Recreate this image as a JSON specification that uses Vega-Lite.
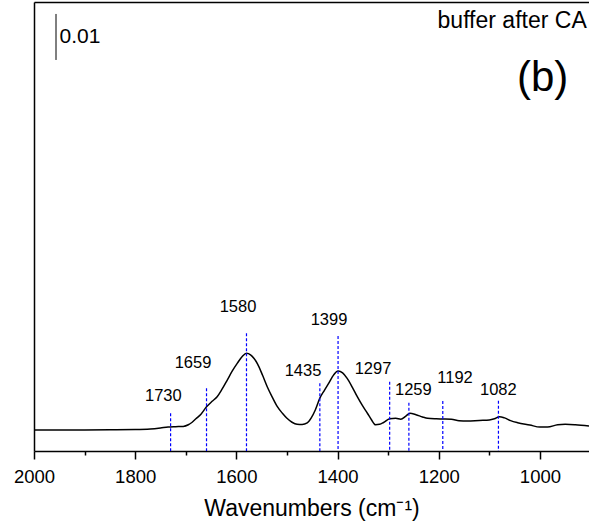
{
  "$schema": "https://vega.github.io/schema/vega-lite/v6.json",
  "width": 555,
  "height": 449,
  "autosize": {"type": "none"},
  "padding": {"left": 34, "top": 2, "right": 0, "bottom": 77},
  "config": {
    "view": {"stroke": null},
    "font": "Liberation Sans",
    "text": {"font": "Liberation Sans", "color": "black"}
  },
  "datasets": {
    "spectrum": [
      {"wn": 2000, "abs": 0.00455}, {"wn": 1950, "abs": 0.00455}, {"wn": 1900, "abs": 0.00457},
      {"wn": 1850, "abs": 0.0046}, {"wn": 1800, "abs": 0.00465}, {"wn": 1770, "abs": 0.00478},
      {"wn": 1750, "abs": 0.005}, {"wn": 1735, "abs": 0.0052}, {"wn": 1720, "abs": 0.00528},
      {"wn": 1705, "abs": 0.00535}, {"wn": 1695, "abs": 0.0057}, {"wn": 1688, "abs": 0.0062},
      {"wn": 1680, "abs": 0.007}, {"wn": 1670, "abs": 0.008}, {"wn": 1659, "abs": 0.0096},
      {"wn": 1648, "abs": 0.0108}, {"wn": 1638, "abs": 0.0118}, {"wn": 1628, "abs": 0.0135},
      {"wn": 1618, "abs": 0.01543}, {"wn": 1608, "abs": 0.0174}, {"wn": 1598, "abs": 0.0191},
      {"wn": 1588, "abs": 0.0206}, {"wn": 1580, "abs": 0.02124}, {"wn": 1572, "abs": 0.0209},
      {"wn": 1565, "abs": 0.0201}, {"wn": 1558, "abs": 0.0189}, {"wn": 1548, "abs": 0.0164},
      {"wn": 1539, "abs": 0.01398}, {"wn": 1529, "abs": 0.0117}, {"wn": 1519, "abs": 0.00963},
      {"wn": 1509, "abs": 0.0082}, {"wn": 1500, "abs": 0.00711}, {"wn": 1490, "abs": 0.00625},
      {"wn": 1480, "abs": 0.0058}, {"wn": 1470, "abs": 0.00575}, {"wn": 1460, "abs": 0.0061},
      {"wn": 1452, "abs": 0.0072}, {"wn": 1444, "abs": 0.00891}, {"wn": 1435, "abs": 0.0115},
      {"wn": 1426, "abs": 0.0132}, {"wn": 1417, "abs": 0.0148}, {"wn": 1408, "abs": 0.0165},
      {"wn": 1399, "abs": 0.01739}, {"wn": 1390, "abs": 0.017}, {"wn": 1381, "abs": 0.0158},
      {"wn": 1371, "abs": 0.0139}, {"wn": 1361, "abs": 0.0118}, {"wn": 1351, "abs": 0.0099},
      {"wn": 1341, "abs": 0.0082}, {"wn": 1333, "abs": 0.0068}, {"wn": 1325, "abs": 0.0057},
      {"wn": 1317, "abs": 0.0058}, {"wn": 1309, "abs": 0.0062}, {"wn": 1297, "abs": 0.007},
      {"wn": 1285, "abs": 0.0071}, {"wn": 1275, "abs": 0.0069}, {"wn": 1265, "abs": 0.0076},
      {"wn": 1257, "abs": 0.0082}, {"wn": 1245, "abs": 0.0079}, {"wn": 1232, "abs": 0.0074},
      {"wn": 1222, "abs": 0.00711}, {"wn": 1205, "abs": 0.007}, {"wn": 1192, "abs": 0.00696},
      {"wn": 1175, "abs": 0.0069}, {"wn": 1160, "abs": 0.0066}, {"wn": 1143, "abs": 0.00652},
      {"wn": 1120, "abs": 0.00665}, {"wn": 1100, "abs": 0.00674}, {"wn": 1090, "abs": 0.007},
      {"wn": 1080, "abs": 0.00746}, {"wn": 1070, "abs": 0.0072}, {"wn": 1058, "abs": 0.0066},
      {"wn": 1044, "abs": 0.00615}, {"wn": 1020, "abs": 0.00565}, {"wn": 1000, "abs": 0.0052},
      {"wn": 985, "abs": 0.0052}, {"wn": 965, "abs": 0.0057}, {"wn": 950, "abs": 0.0058},
      {"wn": 930, "abs": 0.0057}, {"wn": 903, "abs": 0.00543}
    ],
    "peaks": [
      {"wn": 1730, "top": 0.0082, "label": "1730", "label_wn": 1744.4, "label_abs": 0.01196},
      {"wn": 1659, "top": 0.01363, "label": "1659", "label_wn": 1685.7, "label_abs": 0.01913},
      {"wn": 1580, "top": 0.02559, "label": "1580", "label_wn": 1596.8, "label_abs": 0.03137},
      {"wn": 1435, "top": 0.01472, "label": "1435", "label_wn": 1468.3, "label_abs": 0.01746},
      {"wn": 1399, "top": 0.025, "label": "1399", "label_wn": 1416.9, "label_abs": 0.02848},
      {"wn": 1297, "top": 0.01507, "label": "1297", "label_wn": 1329.9, "label_abs": 0.01772},
      {"wn": 1259, "top": 0.0105, "label": "1259", "label_wn": 1250.2, "label_abs": 0.01326},
      {"wn": 1192, "top": 0.01087, "label": "1192", "label_wn": 1167.8, "label_abs": 0.0158},
      {"wn": 1082, "top": 0.01093, "label": "1082", "label_wn": 1082.2, "label_abs": 0.01326}
    ],
    "scalebar": [
      {"wn": 1956.5, "lo": 0.085, "hi": 0.095, "mid": 0.0901, "label": "0.01"}
    ],
    "notes": [
      {"wn": 907.5, "abs": 0.0935, "text": "buffer after CA", "size": "small"},
      {"wn": 943.8, "abs": 0.0811, "text": "(b)", "size": "big"}
    ]
  },
  "layer": [
    {
      "data": {"name": "spectrum"},
      "mark": {"type": "line", "color": "black", "strokeWidth": 1.5, "interpolate": "monotone", "clip": true},
      "encoding": {
        "x": {
          "field": "wn", "type": "quantitative",
          "scale": {"domain": [2000, 903], "nice": false, "zero": false},
          "axis": {
            "orient": "bottom",
            "values": [2000, 1800, 1600, 1400, 1200, 1000],
            "format": "d",
            "grid": false,
            "tickSize": 8, "tickWidth": 1.5, "tickColor": "black",
            "domainColor": "black", "domainWidth": 1.5,
            "labelFont": "Liberation Sans", "labelFontSize": 18.5, "labelColor": "black",
            "labelPadding": 8, "labelOverlap": false, "labelFlush": false,
            "title": "Wavenumbers (cm⁻¹)",
            "titleFont": "Liberation Sans", "titleFontSize": 23, "titleFontWeight": "normal",
            "titleColor": "black", "titleX": 277.5, "titleY": 64,
            "titleBaseline": "alphabetic", "titleAlign": "center"
          }
        },
        "y": {
          "field": "abs", "type": "quantitative",
          "scale": {"domain": [0, 0.0976], "nice": false, "zero": false},
          "axis": {
            "orient": "left", "ticks": false, "labels": false, "title": null, "grid": false,
            "domain": true, "domainColor": "black", "domainWidth": 1.5
          }
        }
      }
    },
    {
      "data": {"name": "peaks"},
      "mark": {"type": "rule", "color": "#0000FF", "strokeWidth": 1.2, "strokeDash": [3, 2]},
      "encoding": {
        "x": {
          "field": "wn", "type": "quantitative",
          "scale": {"domain": [2000, 903], "nice": false, "zero": false},
          "axis": {
            "orient": "bottom",
            "values": [1900, 1700, 1500, 1300, 1100],
            "grid": false, "labels": false, "domain": false, "title": null,
            "tickSize": 4, "tickWidth": 1.5, "tickColor": "black"
          }
        },
        "y": {
          "field": "top", "type": "quantitative",
          "scale": {"domain": [0, 0.0976], "nice": false, "zero": false},
          "axis": null
        },
        "y2": {"datum": 0}
      }
    },
    {
      "data": {"name": "peaks"},
      "mark": {"type": "text", "fontSize": 16.5, "align": "center", "baseline": "middle", "color": "black"},
      "encoding": {
        "x": {
          "field": "label_wn", "type": "quantitative",
          "scale": {"domain": [2000, 903], "nice": false, "zero": false},
          "axis": {
            "orient": "top", "ticks": false, "labels": false, "title": null, "grid": false,
            "domain": true, "domainColor": "black", "domainWidth": 1.5
          }
        },
        "y": {
          "field": "label_abs", "type": "quantitative",
          "scale": {"domain": [0, 0.0976], "nice": false, "zero": false},
          "axis": null
        },
        "text": {"field": "label"}
      }
    },
    {
      "data": {"name": "scalebar"},
      "mark": {"type": "rule", "color": "black", "strokeWidth": 1},
      "encoding": {
        "x": {"field": "wn", "type": "quantitative", "scale": {"domain": [2000, 903], "nice": false, "zero": false}, "axis": null},
        "y": {"field": "lo", "type": "quantitative", "scale": {"domain": [0, 0.0976], "nice": false, "zero": false}, "axis": null},
        "y2": {"field": "hi"}
      }
    },
    {
      "data": {"name": "scalebar"},
      "mark": {"type": "text", "fontSize": 21, "align": "left", "baseline": "middle", "dx": 3.5, "color": "black"},
      "encoding": {
        "x": {"field": "wn", "type": "quantitative", "scale": {"domain": [2000, 903], "nice": false, "zero": false}, "axis": null},
        "y": {"field": "mid", "type": "quantitative", "scale": {"domain": [0, 0.0976], "nice": false, "zero": false}, "axis": null},
        "text": {"field": "label"}
      }
    },
    {
      "data": {"name": "notes"},
      "mark": {"type": "text", "align": "right", "baseline": "middle", "color": "black"},
      "encoding": {
        "x": {"field": "wn", "type": "quantitative", "scale": {"domain": [2000, 903], "nice": false, "zero": false}, "axis": null},
        "y": {"field": "abs", "type": "quantitative", "scale": {"domain": [0, 0.0976], "nice": false, "zero": false}, "axis": null},
        "text": {"field": "text"},
        "size": {"field": "size", "type": "nominal", "scale": {"domain": ["small", "big"], "range": [23, 42]}, "legend": null}
      }
    }
  ],
  "resolve": {"axis": {"x": "independent", "y": "independent"}}
}
